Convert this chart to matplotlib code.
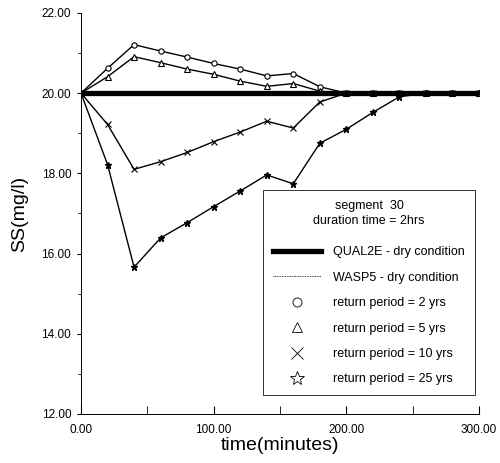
import numpy as np
import matplotlib.pyplot as plt
from matplotlib.lines import Line2D

plt.rcParams['font.family'] = ['Liberation Sans', 'DejaVu Sans']

# time (minutes) and SS (mg/l)
time = [0, 20, 40, 60, 80, 100, 120, 140, 160, 180, 200, 220, 240, 260, 280, 300]
qual2e_dry = [20.0] * len(time)
wasp5_dry = [20.0] * len(time)
rp_2yrs = [20.0, 20.62, 21.21, 21.05, 20.90, 20.74, 20.60, 20.43, 20.49, 20.16,
           20.0, 20.0, 20.0, 20.0, 20.0, 20.0]
rp_5yrs = [20.0, 20.41, 20.91, 20.76, 20.60, 20.47, 20.30, 20.17, 20.24, 20.05,
           20.0, 20.0, 20.0, 20.0, 20.0, 20.0]
rp_10yrs = [20.0, 19.22, 18.10, 18.29, 18.52, 18.79, 19.03, 19.30, 19.13, 19.78,
            20.0, 20.0, 20.0, 20.0, 20.0, 20.0]
rp_25yrs = [20.0, 18.22, 15.66, 16.39, 16.77, 17.17, 17.56, 17.96, 17.74, 18.75,
            19.10, 19.52, 19.91, 20.0, 20.0, 20.0]

fig = plt.figure(figsize=(5.0, 4.63), dpi=100)
ax = fig.add_axes([0.162, 0.106, 0.796, 0.866])

ax.plot(time, wasp5_dry, color='black', lw=0.6, zorder=2)
ax.plot(time, rp_2yrs, color='black', lw=1.0, marker='o', ms=3.8, mfc='white', mec='black', mew=0.8, zorder=3)
ax.plot(time, rp_5yrs, color='black', lw=1.0, marker='^', ms=3.8, mfc='white', mec='black', mew=0.8, zorder=3)
ax.plot(time, rp_10yrs, color='black', lw=1.0, marker='x', ms=4.5, mew=0.8, zorder=3)
ax.plot(time, rp_25yrs, color='black', lw=1.0, marker='*', ms=5, mfc='black', mec='black', zorder=3)
ax.plot(time, qual2e_dry, color='black', lw=3.8, zorder=4)

ax.set_xlim(0, 300)
ax.set_ylim(12, 22)
ax.set_xticks([0, 100, 200, 300])
ax.set_xticks([50, 150, 250], minor=True)
ax.set_yticks([12, 14, 16, 18, 20, 22])
ax.set_yticks([13, 15, 17, 19, 21], minor=True)
ax.set_xticklabels(['%.2f' % v for v in [0, 100, 200, 300]])
ax.set_yticklabels(['%.2f' % v for v in [12, 14, 16, 18, 20, 22]])
ax.tick_params(axis='x', direction='in', length=6, labelsize=8.5, pad=7)
ax.tick_params(axis='x', which='minor', direction='in', length=6)
ax.tick_params(axis='y', direction='out', length=3, labelsize=8.5, pad=4)
ax.tick_params(axis='y', which='minor', direction='out', length=2)
ax.spines['top'].set_visible(False)
ax.spines['right'].set_visible(False)
ax.spines['left'].set_linewidth(0.7)
ax.spines['bottom'].set_linewidth(0.7)

ax.set_xlabel('time(minutes)', fontsize=14, labelpad=1)
ax.set_ylabel('SS(mg/l)', fontsize=14, labelpad=10)

handles = [
    Line2D([], [], color='black', lw=3.8),
    Line2D([], [], color='black', lw=0.6, ls=(0, (1, 1))),
    Line2D([], [], ls='none', marker='o', ms=6.5, mfc='white', mec='black', mew=0.6),
    Line2D([], [], ls='none', marker='^', ms=7.5, mfc='white', mec='black', mew=0.6),
    Line2D([], [], ls='none', marker='x', ms=9, mec='black', mew=0.6),
    Line2D([], [], ls='none', marker='*', ms=10, mfc='white', mec='black', mew=0.6),
]
labels = ['QUAL2E - dry condition', 'WASP5 - dry condition',
          'return period = 2 yrs', 'return period = 5 yrs',
          'return period = 10 yrs', 'return period = 25 yrs']
leg = ax.legend(handles, labels, loc='upper right', bbox_to_anchor=(0.99, 0.559),
                title='segment  30\nduration time = 2hrs', title_fontsize=9,
                fontsize=9, frameon=True, fancybox=False, edgecolor='black',
                handlelength=3.8, handletextpad=1.0, labelspacing=1.07,
                borderpad=0.8, borderaxespad=0, alignment='center')
leg.get_title().set_multialignment('center')
leg.get_title().set_linespacing(1.35)
leg._legend_box.sep = 14
leg.get_frame().set_linewidth(0.7)
leg.set_zorder(5)

fig.savefig('out.png', dpi=100)
